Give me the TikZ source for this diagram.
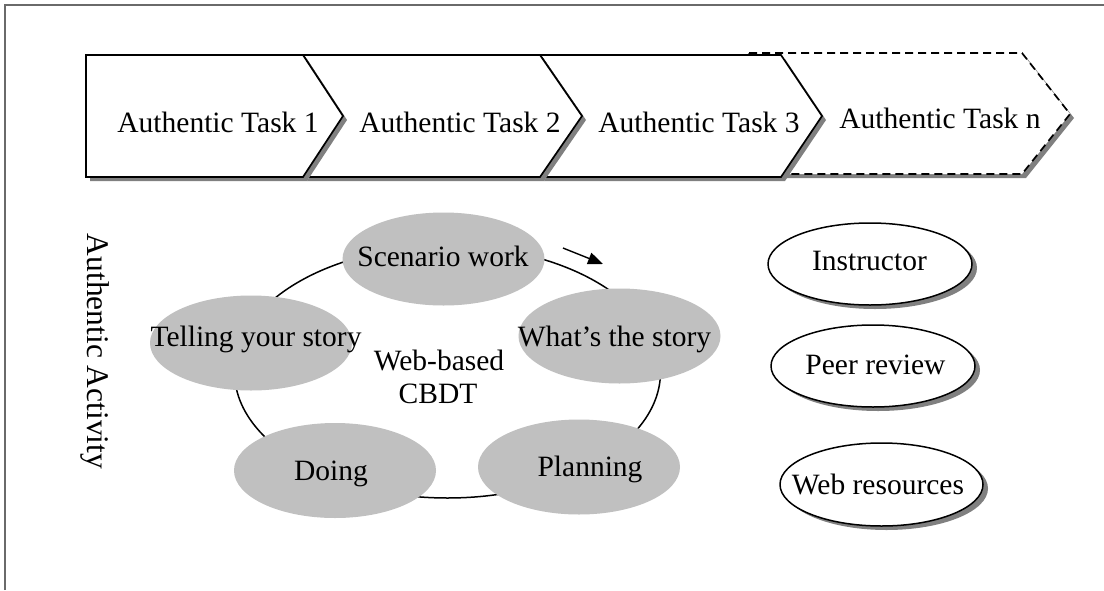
\documentclass[tikz,border=0pt]{standalone}
\usepackage{fontspec}
\setmainfont{Liberation Serif}
\usetikzlibrary{shapes.geometric,arrows.meta,shadows}
\definecolor{shadowgray}{HTML}{808080}
\definecolor{phasegray}{HTML}{C0C0C0}
\definecolor{framegray}{HTML}{6A6A6A}
\begin{document}
\begin{tikzpicture}[x=1pt,y=-1pt,
  txt/.style={font=\fontsize{29.5}{33}\selectfont, inner sep=0pt, anchor=base},
  chev/.style={draw=black, line width=1.7pt, fill=white, line join=miter},
  chevshadow/.style={fill=shadowgray, shift={(4,4)}},
  phase/.style={ellipse, fill=phasegray, draw=none, inner sep=0pt,
    minimum width=202pt, minimum height=95pt},
  support/.style={ellipse, draw=black, line width=1.5pt, fill=white, inner sep=0pt,
    minimum width=204pt, minimum height=82pt,
    drop shadow={shadow xshift=5pt, shadow yshift=-4pt, fill=shadowgray, opacity=1, draw=none}},
  ring/.style={draw=black, line width=1.5pt},
  cyclearrow/.style={line width=1.4pt, -{Triangle[length=15pt,width=12pt]}}
]
\useasboundingbox (0,0) rectangle (1104,590);
\fill[white] (0,0) rectangle (1104,590);

% outer frame
\draw[framegray, line width=2.2pt] (4.7,590) -- (4.7,4.7) -- (1104,4.7);

% task chevrons, drawn back to front
\fill[chevshadow] (749,53) -- (1022,53) -- (1070,114) -- (1022,174) -- (749,174) -- (789,114) -- cycle;
\filldraw[chev, dash pattern=on 8pt off 5pt] (749,53) -- (1022,53) -- (1070,114) -- (1022,174) -- (749,174) -- (789,114) -- cycle;

\fill[chevshadow] (540,55) -- (781,55) -- (822,116) -- (781,177) -- (540,177) -- (582,116) -- cycle;
\filldraw[chev] (540,55) -- (781,55) -- (822,116) -- (781,177) -- (540,177) -- (582,116) -- cycle;

\fill[chevshadow] (303,55) -- (540,55) -- (582,116) -- (540,177) -- (303,177) -- (343,116) -- cycle;
\filldraw[chev] (303,55) -- (540,55) -- (582,116) -- (540,177) -- (303,177) -- (343,116) -- cycle;

\fill[chevshadow] (86,55) -- (303,55) -- (343,116) -- (303,177) -- (86,177) -- cycle;
\filldraw[chev] (86,55) -- (303,55) -- (343,116) -- (303,177) -- (86,177) -- cycle;

\node[txt] (task1) at (218,132) {Authentic Task 1};
\node[txt] (task2) at (460,132) {Authentic Task 2};
\node[txt] (task3) at (699,132) {Authentic Task 3};
\node[txt] (taskn) at (940,128.5) {Authentic Task n};

% side label
\node[txt, font=\fontsize{31.5}{36}\selectfont, rotate=-90] (activity) at (87,351.5) {Authentic Activity};

% CBDT cycle
\draw[ring] (447.5,372) ellipse [x radius=213pt, y radius=126pt];

\node[phase, minimum height=93pt] (scen) at (443.5,259) {};
\node[phase] (tell) at (251,343) {};
\node[phase] (what) at (619.5,336) {};
\node[phase] (plan) at (579,467) {};
\node[phase] (doing) at (335,470.5) {};

\node[txt] (scentxt) at (443,266.7) {Scenario work};
\node[txt] (telltxt) at (256,346.7) {Telling your story};
\node[txt] (whattxt) at (614.5,346.7) {What’s the story};
\node[txt] (plantxt) at (590,476.7) {Planning};
\node[txt] (doingtxt) at (331,480.7) {Doing};

\node[txt] (web1) at (439,370) {Web-based};
\node[txt] (web2) at (438,403.3) {CBDT};

\coordinate (arrS) at (563,248);
\coordinate (arrE) at (603,264);
\draw[cyclearrow] (arrS) -- (arrE);

% supporting resources
\node[support] (instr) at (870,264) {};
\node[support] (peer) at (873,366) {};
\node[support, minimum width=203pt, minimum height=83pt] (webres) at (881.5,484.5) {};

\node[txt] (instrtxt) at (869.5,270) {Instructor};
\node[txt] (peertxt) at (875.5,374) {Peer review};
\node[txt] (webrestxt) at (878,494) {Web resources};
\end{tikzpicture}
\end{document}
